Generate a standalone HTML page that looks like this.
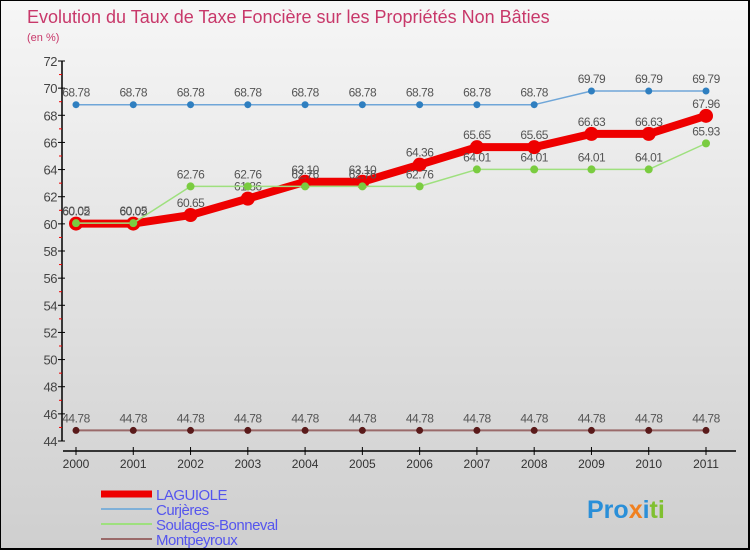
<!DOCTYPE html>
<html><head><meta charset="utf-8"><style>
body{margin:0}
#c{width:750px;height:550px;position:relative;background:linear-gradient(#f6f6f6,#cfcfcf);box-sizing:border-box;border:1px solid #000;border-right:2px solid #000;border-bottom:2px solid #000;overflow:hidden;font-family:"Liberation Sans",sans-serif}
svg text{font-family:"Liberation Sans",sans-serif}
</style></head><body>
<div id="c">
<svg id="s" width="750" height="550" style="position:absolute;left:0;top:0">
<text x="26" y="22" font-size="18" fill="#c8386a">Evolution du Taux de Taxe Foncière sur les Propriétés Non Bâties</text>
<text x="26" y="40" font-size="11" fill="#c8386a">(en %)</text>
<text x="586" y="517" font-size="25" font-weight="bold" fill="#2a8fd8">Pro<tspan fill="#f08020">x</tspan><tspan fill="#2a8fd8">i</tspan><tspan fill="#80c030">ti</tspan></text>
</svg>
</div>
<script>
const years=["2000","2001","2002","2003","2004","2005","2006","2007","2008","2009","2010","2011"];
const laguiole=[60.02,60.02,60.65,61.86,63.1,63.1,64.36,65.65,65.65,66.63,66.63,67.96];
const curieres=[68.78,68.78,68.78,68.78,68.78,68.78,68.78,68.78,68.78,69.79,69.79,69.79];
const soulages=[60.05,60.05,62.76,62.76,62.76,62.76,62.76,64.01,64.01,64.01,64.01,65.93];
const montpeyroux=[44.78,44.78,44.78,44.78,44.78,44.78,44.78,44.78,44.78,44.78,44.78,44.78];
const yTicks=[44,46,48,50,52,54,56,58,60,62,64,66,68,70,72];
const NS="http://www.w3.org/2000/svg";
const s=document.getElementById('s');
const X=i=>75+i*(705-75)/(years.length-1);
const Y=v=>440-(v-44)*(440-60)/(72-44);
function el(t,a,p){const e=document.createElementNS(NS,t);for(const k in a)e.setAttribute(k,a[k]);(p||s).appendChild(e);return e;}
let ya=el('line',{x1:61,y1:60,x2:61,y2:440,stroke:'#000','stroke-width':1.5});


let xa=el('line',{x1:62,y1:450,x2:735,y2:450,stroke:'#000','stroke-width':1.5});


yTicks.forEach((v,i)=>{
 el('line',{x1:57,x2:64,y1:Y(v),y2:Y(v),stroke:'#000'});
 if(i<yTicks.length-1)el('line',{x1:58,x2:61,y1:Y(v+1),y2:Y(v+1),stroke:'#e00'});
 const t=el('text',{x:56,y:Y(v)+5,'text-anchor':'end','font-size':13,fill:'#444','letter-spacing':'-0.5'});t.textContent=v;
 
 
});
years.forEach((y,i)=>{
 el('line',{x1:X(i),x2:X(i),y1:446,y2:454,stroke:'#000'});
 const t=el('text',{x:X(i),y:467,'text-anchor':'middle','font-size':12,fill:'#333'});t.textContent=y;
 
 
});
function series(d,color,w,r,fill,name){
 const g=el('g',{});
 
 
 el('polyline',{points:d.map((v,i)=>X(i)+','+Y(v)).join(' '),fill:'none',stroke:color,'stroke-width':w,'stroke-linejoin':'round'},g);
 d.forEach((v,i)=>{
  const c=el('circle',{cx:X(i),cy:Y(v),r:r,fill:fill},g);
  
  
  const t=el('text',{x:X(i),y:Y(v)-8,'text-anchor':'middle','font-size':12,fill:'#555','letter-spacing':'-0.5'},g);t.textContent=v.toFixed(2);
 });
}
series(montpeyroux,'#9a6a6a',2,3.5,'#5a1a1a','montpeyroux-series');
series(curieres,'#6fa6d8',1.5,3.5,'#2f7fc0','curieres-series');
series(laguiole,'#ee0000',8,7,'#ee0000','laguiole-series');
series(soulages,'#9ee07e',1.5,4,'#7acc40','soulages-series');
const leg=[["LAGUIOLE","#ee0000",7],["Curjères","#7fb0d8",2],["Soulages-Bonneval","#9ee07e",2],["Montpeyroux","#9a6a6a",2]];
leg.forEach((l,i)=>{
 const y=493+i*15;
 const g=el('g',{});
 
 
 el('line',{x1:100,x2:151,y1:y,y2:y,stroke:l[1],'stroke-width':l[2]},g);
 const t=el('text',{x:155,y:y+6,'font-size':15,fill:'#5555ee','letter-spacing':'-0.5'},g);t.textContent=l[0];
});
</script>
</body></html>
